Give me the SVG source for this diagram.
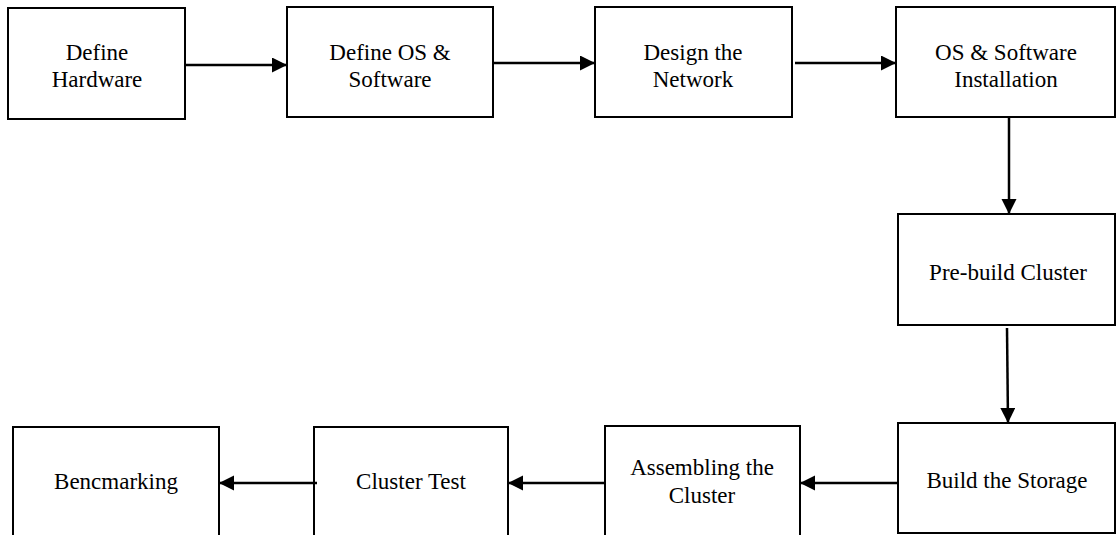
<svg xmlns="http://www.w3.org/2000/svg" width="1116" height="535" viewBox="0 0 1116 535">
<style>
.box{fill:#fff;stroke:#000;stroke-width:2}
.t{font-family:"Liberation Serif","Times New Roman",serif;font-size:23px;fill:#000;text-anchor:middle}
.c{stroke:#000;stroke-width:2.5;fill:none}
</style>
<defs>
<marker id="ah" markerUnits="userSpaceOnUse" markerWidth="16" markerHeight="16" refX="15" refY="7.5" orient="auto">
<path d="M0,0 L15,7.5 L0,15 Z" fill="#000"/>
</marker>
</defs>
<rect width="1116" height="535" fill="#fff"/>
<g id="n1"><rect class="box" x="8" y="8" width="177" height="111"/><text class="t" x="97" y="60">Define</text><text class="t" x="97" y="87">Hardware</text></g>
<g id="n2"><rect class="box" x="287" y="7" width="206" height="110"/><text class="t" x="390" y="60">Define OS &amp;</text><text class="t" x="390" y="87">Software</text></g>
<g id="n3"><rect class="box" x="595" y="7" width="197" height="110"/><text class="t" x="693" y="60">Design the</text><text class="t" x="693" y="87">Network</text></g>
<g id="n4"><rect class="box" x="896" y="7" width="219" height="110"/><text class="t" x="1006" y="60">OS &amp; Software</text><text class="t" x="1006" y="87">Installation</text></g>
<g id="n5"><rect class="box" x="898" y="214" width="217" height="111"/><text class="t" x="1008" y="280">Pre-build Cluster</text></g>
<g id="n6"><rect class="box" x="898" y="423" width="217" height="110"/><text class="t" x="1007" y="488">Build the Storage</text></g>
<g id="n7"><rect class="box" x="605" y="426" width="195" height="120"/><text class="t" x="702" y="475">Assembling the</text><text class="t" x="702" y="503">Cluster</text></g>
<g id="n8"><rect class="box" x="314" y="427" width="194" height="120"/><text class="t" x="411" y="489">Cluster Test</text></g>
<g id="n9"><rect class="box" x="13" y="427" width="206" height="120"/><text class="t" x="116" y="489">Bencmarking</text></g>
<g id="connectors">
<line class="c" x1="185" y1="65" x2="287" y2="65" marker-end="url(#ah)"/>
<line class="c" x1="493" y1="63" x2="595" y2="63" marker-end="url(#ah)"/>
<line class="c" x1="795" y1="63" x2="896" y2="63" marker-end="url(#ah)"/>
<line class="c" x1="1009" y1="118" x2="1009" y2="214" marker-end="url(#ah)"/>
<line class="c" x1="1007" y1="328" x2="1008" y2="423" marker-end="url(#ah)"/>
<line class="c" x1="898" y1="483" x2="800" y2="483" marker-end="url(#ah)"/>
<line class="c" x1="605" y1="483" x2="508" y2="483" marker-end="url(#ah)"/>
<line class="c" x1="317" y1="483" x2="219" y2="483" marker-end="url(#ah)"/>
</g>
</svg>
